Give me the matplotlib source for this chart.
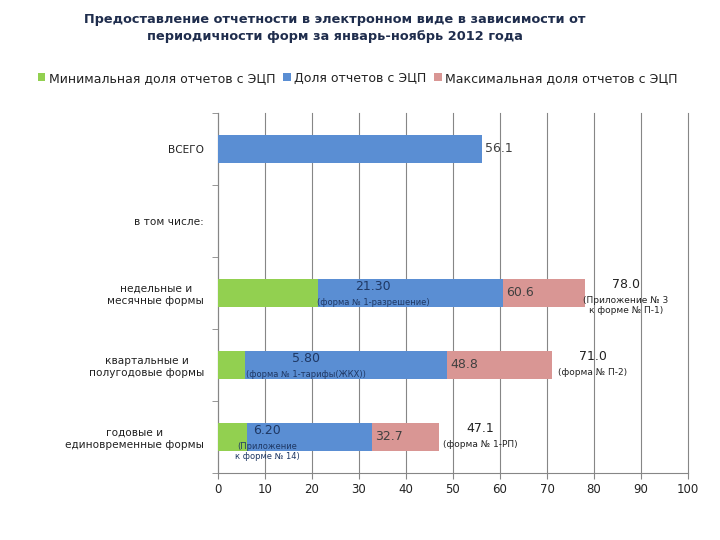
import numpy as np
import matplotlib.pyplot as plt

# Категории (сверху вниз)
categories = ['ВСЕГО', 'в том числе:', 'недельные и\nмесячные формы',
              'квартальные и\nполугодовые формы', 'годовые и\nединовременные формы']

# Значения рядов, %
min_share = [np.nan, np.nan, 21.30, 5.80, 6.20]
share = [56.1, np.nan, 60.6, 48.8, 32.7]
max_share = [np.nan, np.nan, 78.0, 71.0, 47.1]

# Подписи форм
min_forms = ['', '', '(форма № 1-разрешение)', '(форма № 1-тарифы(ЖКХ))',
             '(Приложение\nк форме № 14)']
max_forms = ['', '', '(Приложение № 3\nк форме № П-1)', '(форма № П-2)',
             '(форма № 1-РП)']
min_label_x = [0, 0, 33.0, 18.7, 10.4]  # положение подписей минимума

series_names = ['Минимальная доля отчетов с ЭЦП', 'Доля отчетов с ЭЦП',
                'Максимальная доля отчетов с ЭЦП']
colors = ['#92D050', '#5A8ED3', '#D99694']

fig = plt.figure(figsize=(7.2, 5.4), dpi=100)
ax = fig.add_axes([218 / 720, 1 - 473 / 540, 470 / 720, 360 / 540])

y = np.arange(len(categories))
h = 0.39
# рисуем максимум, потом долю, потом минимум (перекрытие)
b_max = ax.barh(y, max_share, height=h, color=colors[2], zorder=2, label=series_names[2])
b_mid = ax.barh(y, share, height=h, color=colors[1], zorder=3, label=series_names[1])
b_min = ax.barh(y, min_share, height=h, color=colors[0], zorder=4, label=series_names[0])

ax.set_xlim(0, 100)
ax.set_ylim(len(categories) - 0.5, -0.5)
ax.set_xticks(np.arange(0, 101, 10))
ax.set_yticks(y)
ax.set_yticklabels(categories, fontsize=7.6, color='#222222')
ax.set_yticks(np.arange(-0.5, len(categories), 1), minor=True)
ax.tick_params(axis='y', which='major', length=0, pad=10)
ax.tick_params(axis='y', which='minor', length=4, color='#868686')
ax.tick_params(axis='x', length=4, color='#868686', labelsize=8.5, labelcolor='#222222')
for t in ax.get_yticklabels():
    t.set_horizontalalignment('right')
    t.set_multialignment('center')

ax.grid(axis='x', color='#868686', linewidth=0.8, zorder=0)
for gl in ax.get_xgridlines():
    gl.set_clip_on(False)
ax.set_axisbelow(True)
for s in ['top', 'right']:
    ax.spines[s].set_visible(False)
for s in ['left', 'bottom']:
    ax.spines[s].set_color('#868686')

# Подписи значений
for i in range(len(categories)):
    if not np.isnan(share[i]):
        ax.text(share[i] + 0.7, y[i], f'{share[i]:.1f}', va='center', ha='left',
                fontsize=9, color='#404040', zorder=6)
    if not np.isnan(min_share[i]):
        ax.text(min_label_x[i], y[i] - 0.09, f'{min_share[i]:.2f}', ha='center', va='center',
                fontsize=9, color='#1F3864', zorder=6)
        ax.text(min_label_x[i], y[i] + 0.07, min_forms[i], ha='center', va='top',
                fontsize=6, color='#1F3864', zorder=6, linespacing=1.1)
    if not np.isnan(max_share[i]):
        ax.text(max_share[i] + 8.8, y[i] - 0.12, f'{max_share[i]:.1f}', ha='center', va='center',
                fontsize=9, color='#222222', zorder=6)
        ax.text(max_share[i] + 8.8, y[i] + 0.04, max_forms[i], ha='center', va='top',
                fontsize=6.5, color='#222222', zorder=6, linespacing=1.1)

fig.text(0.465, 0.975, 'Предоставление отчетности в электронном виде в зависимости от\n'
         'периодичности форм за январь-ноябрь 2012 года',
         ha='center', va='top', fontsize=9.3, fontweight='bold', color='#1F2D4D',
         linespacing=1.35)

handles = [b_min, b_mid, b_max]
fig.legend(handles, series_names, loc='center', bbox_to_anchor=(0.497, 0.855), ncol=3,
           frameon=False, fontsize=9, handlelength=0.6, handleheight=0.6,
           handletextpad=0.3, columnspacing=0.6, labelcolor='#222222')

fig.savefig('out.png', dpi=100)
